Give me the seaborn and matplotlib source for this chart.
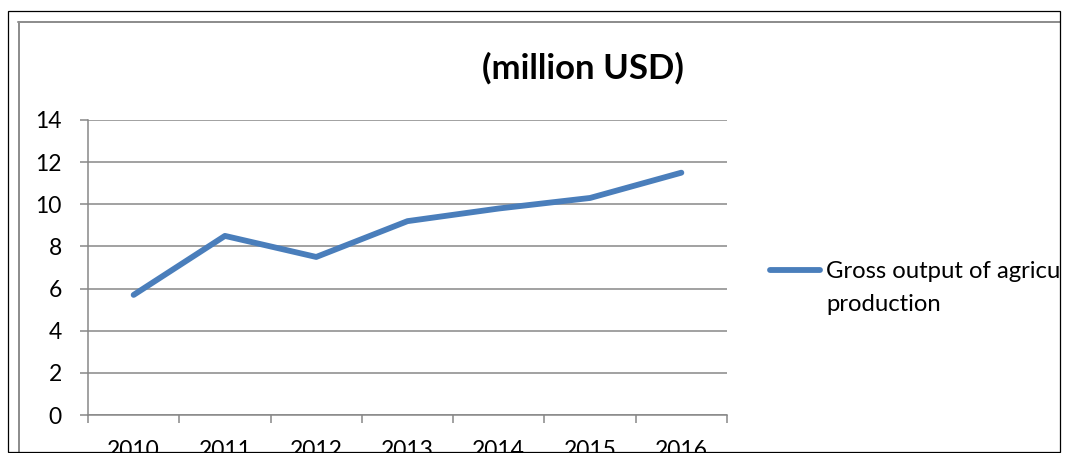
import matplotlib
matplotlib.use("Agg")
import matplotlib.pyplot as plt
import pandas as pd
import seaborn as sns
from matplotlib.lines import Line2D
from matplotlib.patches import Rectangle
from matplotlib.ticker import FixedLocator, FixedFormatter, NullFormatter

# ---- data ----
years = ["2010", "2011", "2012", "2013", "2014", "2015", "2016"]
gross_output = [5.7, 8.5, 7.5, 9.2, 9.8, 10.3, 11.5]
legend_lines = ["Gross output of agricultural", "production"]
title_text = "(million USD)"
y_ticks = [0, 2, 4, 6, 8, 10, 12, 14]

# ---- figure geometry (pixels) ----
W, H = 1067, 453
LINE_BLUE = "#4A7EBB"
GRID_GRAY = "#878787"
FRAME_GRAY = "#8E8E8E"
FS = 16.5
LEG_FS = 17.2


def fx(px):
    return px / W


def fy(py):
    return 1 - py / H


sns.set_theme(style="white")
plt.rcParams["font.family"] = ["Lato", "DejaVu Sans"]

fig = plt.figure(figsize=(W / 100, H / 100), dpi=100)
fig.patch.set_facecolor("white")

ax = fig.add_axes([fx(88), fy(415), fx(727) - fx(88), fy(120) - fy(415)])
df = pd.DataFrame({"year": years, "value": gross_output})
sns.lineplot(data=df, x="year", y="value", ax=ax, color=LINE_BLUE,
             linewidth=4.2, sort=False, solid_capstyle="round",
             solid_joinstyle="round", legend=False)

n = len(years)
ax.set_xlim(-0.5, n - 0.5)
ax.set_ylim(y_ticks[0], y_ticks[-1])
ax.set_xlabel("")
ax.set_ylabel("")

# category boundaries carry the tick marks, centres carry the labels
ax.xaxis.set_major_locator(FixedLocator([i - 0.5 for i in range(n + 1)]))
ax.xaxis.set_major_formatter(NullFormatter())
ax.xaxis.set_minor_locator(FixedLocator(list(range(n))))
ax.xaxis.set_minor_formatter(FixedFormatter(years))
ax.tick_params(axis="x", which="major", direction="out", length=5.8,
               width=1.1, color=GRID_GRAY, bottom=True)
ax.tick_params(axis="x", which="minor", length=0, pad=18, labelsize=FS,
               labelcolor="black", bottom=True)

ax.set_yticks(y_ticks)
ax.set_yticklabels([str(v) for v in y_ticks])
ax.tick_params(axis="y", direction="out", length=5.8, width=1.1,
               color=GRID_GRAY, pad=13, labelsize=FS, labelcolor="black",
               left=True)

ax.yaxis.grid(True, color=GRID_GRAY, linewidth=1.1)
ax.xaxis.grid(False)
ax.set_axisbelow(True)
for side in ("top", "right"):
    ax.spines[side].set_visible(False)
for side in ("left", "bottom"):
    ax.spines[side].set_color(GRID_GRAY)
    ax.spines[side].set_linewidth(1.1)

# title
fig.text(fx(583), fy(68), title_text, ha="center", va="center",
         fontsize=25, fontweight="bold", color="black")

# legend
handle = Line2D([], [], color=LINE_BLUE, linewidth=4.2, solid_capstyle="round")
ax.legend(handles=[handle], labels=[legend_lines[0]], loc="center left",
          bbox_to_anchor=(fx(770), fy(272)), bbox_transform=fig.transFigure,
          frameon=False, borderpad=0, borderaxespad=0,
          handlelength=50 / (LEG_FS * 100 / 72),
          handletextpad=6 / (LEG_FS * 100 / 72), fontsize=LEG_FS,
          labelcolor="black")
fig.text(fx(826), fy(311), legend_lines[1], ha="left", va="baseline",
         fontsize=LEG_FS, color="black")

# chart-area border, clipped by the outer frame
fig.add_artist(Rectangle((fx(1059.5), 0), 1, 1, transform=fig.transFigure,
                         facecolor="white", edgecolor="none", zorder=20))
fig.add_artist(Line2D([fx(19), fx(19)], [fy(21.5), fy(453)],
                      transform=fig.transFigure, color=FRAME_GRAY,
                      linewidth=1.44, zorder=21))
fig.add_artist(Line2D([fx(18), fx(1059.5)], [fy(21.5), fy(21.5)],
                      transform=fig.transFigure, color=FRAME_GRAY,
                      linewidth=1.44, zorder=21))

# outer black frame
fig.add_artist(Rectangle((fx(7.5), fy(451.5)), fx(1059.5) - fx(7.5),
                         fy(10.5) - fy(451.5), transform=fig.transFigure,
                         facecolor="none", edgecolor="black",
                         linewidth=0.9, zorder=22))

fig.savefig("out.png", dpi=100, facecolor="white")
